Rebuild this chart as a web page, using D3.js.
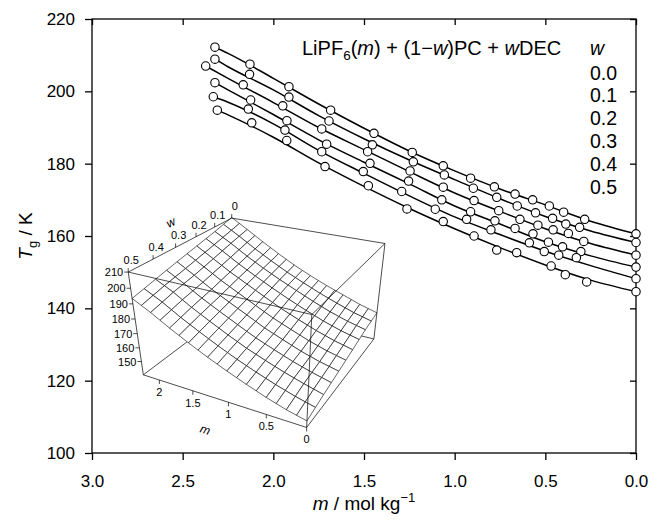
<!DOCTYPE html>
<html><head><meta charset="utf-8">
<script src="https://cdn.jsdelivr.net/npm/d3@7"></script>
<style>body{margin:0;background:#fff} text{font-family:"Liberation Sans",Arial,Helvetica,sans-serif;fill:#000}</style>
</head><body><svg id="c" width="649" height="521"></svg>
<script>
// ---------------- data ----------------
const wValues = [0.0, 0.1, 0.2, 0.3, 0.4, 0.5];
const wLabels = ["0.0", "0.1", "0.2", "0.3", "0.4", "0.5"];

// measured points (m / mol kg^-1, Tg / K) for each w
const pointsM = [
  [2.322,2.129,1.914,1.684,1.445,1.234,1.063,0.912,0.781,0.667,0.570,0.478,0.399,0.283,0],
  [2.322,2.131,1.914,1.693,1.454,1.228,1.057,0.897,0.768,0.655,0.554,0.460,0.387,0.311,0],
  [2.373,2.166,1.948,1.733,1.480,1.246,1.063,0.893,0.757,0.640,0.541,0.457,0.373,0.288,0],
  [2.322,2.125,1.925,1.706,1.467,1.254,1.071,0.912,0.778,0.667,0.568,0.483,0.405,0.304,0],
  [2.331,2.138,1.936,1.733,1.504,1.292,1.107,0.934,0.800,0.588,0.506,0.426,0.329,0],
  [2.309,2.119,1.926,1.715,1.476,1.263,1.063,0.893,0.768,0.658,0.468,0.390,0.272,0]
];
const pointsT = [
  [212.2,207.5,201.3,194.8,188.4,183.1,179.4,176.0,173.6,171.6,170.0,168.3,166.6,164.6,160.6],
  [208.9,204.7,198.4,191.8,185.2,180.5,176.9,173.2,170.7,168.3,166.4,164.9,163.3,162.4,158.2],
  [207.0,201.8,196.0,189.6,183.3,178.0,173.5,169.8,167.0,164.6,163.0,161.7,160.7,158.5,154.7],
  [202.4,197.6,191.9,185.4,180.1,175.2,170.0,166.7,164.2,162.1,160.6,158.3,157.0,155.7,151.4],
  [198.5,195.1,189.3,183.3,177.8,172.3,167.4,164.6,161.7,158.1,155.7,154.7,154.0,148.2],
  [194.8,191.3,186.4,179.2,173.9,167.5,164.0,160.0,156.1,155.4,151.7,149.3,147.3,144.6]
];

// fitted curves
const fitM = [0, 0.25, 0.5, 0.75, 1.0, 1.25, 1.5, 1.75, 2.0, 2.25];
const fitT = [
  [160.6,164.1,168.6,173.0,178.0,183.5,189.8,196.5,203.6,210.5],
  [158.2,161.4,165.4,170.3,175.6,181.0,186.9,193.3,200.4,206.8],
  [154.7,157.9,162.0,166.8,171.9,177.8,183.9,190.0,196.9,203.6],
  [151.4,154.5,158.4,163.3,168.3,174.4,180.4,186.6,193.6,200.4],
  [148.2,151.8,155.8,160.4,165.3,171.1,177.3,183.7,191.0,197.0],
  [144.6,147.8,152.0,156.8,162.0,167.6,173.7,180.2,187.3,193.5]
];
const fitStartM = [2.322, 2.322, 2.373, 2.322, 2.331, 2.309];
const fitStartT = [212.2, 208.9, 207.0, 202.4, 198.5, 194.8];

const xTicks = [3.0, 2.5, 2.0, 1.5, 1.0, 0.5, 0.0];
const yTicks = [100, 120, 140, 160, 180, 200, 220];
const insetMTicks = [0, 0.5, 1, 1.5, 2];
const insetMLabels = ["0", "0.5", "1", "1.5", "2"];
const insetWTicks = [0, 0.1, 0.2, 0.3, 0.4, 0.5];
const insetWLabels = ["0", "0.1", "0.2", "0.3", "0.4", "0.5"];
const insetZTicks = [150, 160, 170, 180, 190, 200, 210];

// ---------------- main plot ----------------
const svg = d3.select("#c");
const L = 92, R = 636, T = 19, B = 453;
const x = d3.scaleLinear().domain([3, 0]).range([L, R]);
const y = d3.scaleLinear().domain([100, 220]).range([B, T]);
const FONT = '"Liberation Sans",Arial,sans-serif';

// ---------------- inset 3-D surface ----------------
const mDom = [0, 2.25], wDom = [0, 0.5], zDom = [140, 210];
const sx = d3.scaleLinear().domain(mDom).range([0, 1]);
const sy = d3.scaleLinear().domain(wDom).range([0, 1]);
const sz = d3.scaleLinear().domain(zDom).range([0, 1]);
// calibration of the projection: unit-box corners -> screen
const calib3 = [[1,1,1],[1,1,0],[0,1,0],[1,0,1],[0,0,1],[0,1,1]];
const calib2 = [[128.3,271.7],[143.3,375],[306.7,427.3],[231.7,218.3],[385,243.3],[311.7,315]];
function makeProjection() {
  const u0 = 250, v0 = 320, sc = 100, n = 11;
  const A = [], b = [];
  calib3.forEach((p, i) => {
    const [X, Y, Z] = p;
    const u = (calib2[i][0] - u0) / sc, v = (calib2[i][1] - v0) / sc;
    A.push([X, Y, Z, 1, 0, 0, 0, 0, -u * X, -u * Y, -u * Z]); b.push(u);
    A.push([0, 0, 0, 0, X, Y, Z, 1, -v * X, -v * Y, -v * Z]); b.push(v);
  });
  const M = d3.range(n).map(() => new Array(n + 1).fill(0));
  for (let r = 0; r < A.length; r++)
    for (let i = 0; i < n; i++) {
      for (let j = 0; j < n; j++) M[i][j] += A[r][i] * A[r][j];
      M[i][n] += A[r][i] * b[r];
    }
  for (let i = 0; i < n; i++) M[i][i] += 1e-9;
  for (let c = 0; c < n; c++) {
    let piv = c;
    for (let r = c + 1; r < n; r++) if (Math.abs(M[r][c]) > Math.abs(M[piv][c])) piv = r;
    [M[c], M[piv]] = [M[piv], M[c]];
    for (let r = 0; r < n; r++) {
      if (r === c) continue;
      const f = M[r][c] / M[c][c];
      for (let j = c; j <= n; j++) M[r][j] -= f * M[c][j];
    }
  }
  const a = M.map((row, i) => row[n] / row[i]);
  return (X, Y, Z) => {
    const d = a[8] * X + a[9] * Y + a[10] * Z + 1;
    return [(a[0] * X + a[1] * Y + a[2] * Z + a[3]) / d * sc + u0,
            (a[4] * X + a[5] * Y + a[6] * Z + a[7]) / d * sc + v0, d];
  };
}
const proj = makeProjection();
const P = (m, w, z) => proj(sx(m), sy(w), sz(z));

const inset = svg.append("g");
const cube = [[0,0,0],[1,0,0],[0,1,0],[1,1,0],[0,0,1],[1,0,1],[0,1,1],[1,1,1]];
const cubeEdges = [];
for (let i = 0; i < 8; i++) for (let j = i + 1; j < 8; j++) {
  const a = cube[i], c = cube[j];
  if (Math.abs(a[0]-c[0]) + Math.abs(a[1]-c[1]) + Math.abs(a[2]-c[2]) === 1) cubeEdges.push([a, c]);
}
const isBack = e => e.some(p => p[0] === 1 && p[1] === 0 && p[2] === 0);
function drawEdge(e) {
  const p1 = proj(...e[0]), p2 = proj(...e[1]);
  inset.append("line").attr("x1", p1[0]).attr("y1", p1[1]).attr("x2", p2[0]).attr("y2", p2[1])
    .attr("stroke", "#000").attr("stroke-width", 0.7);
}
cubeEdges.filter(isBack).forEach(drawEdge);

// surface mesh (each data cell split in two for drawing)
const nI = (fitM.length - 1) * 2, nJ = (wValues.length - 1) * 2;
function node(i2, j2) {
  const i0 = Math.floor(i2 / 2), i1 = Math.ceil(i2 / 2), j0 = Math.floor(j2 / 2), j1 = Math.ceil(j2 / 2);
  const ti = (i2 / 2) - i0, tj = (j2 / 2) - j0;
  const m = d3.interpolateNumber(fitM[i0], fitM[i1])(ti);
  const w = d3.interpolateNumber(wValues[j0], wValues[j1])(tj);
  const a = d3.interpolateNumber(fitT[j0][i0], fitT[j0][i1])(ti);
  const c = d3.interpolateNumber(fitT[j1][i0], fitT[j1][i1])(ti);
  const z = d3.interpolateNumber(a, c)(tj);
  return P(m, w, z);
}
const cells = [];
for (let i = 0; i < nI; i++) for (let j = 0; j < nJ; j++) {
  const q = [node(i, j), node(i + 1, j), node(i + 1, j + 1), node(i, j + 1)];
  cells.push({ q, d: d3.mean(q, p => p[2]) });
}
cells.sort((a, b) => b.d - a.d);
inset.selectAll("path.cell").data(cells).join("path").attr("class", "cell")
  .attr("d", c => "M" + c.q.map(p => p[0].toFixed(2) + "," + p[1].toFixed(2)).join("L") + "Z")
  .attr("fill", "#fff").attr("stroke", "#000").attr("stroke-width", 0.6).attr("stroke-linejoin", "round");

cubeEdges.filter(e => !isBack(e)).forEach(drawEdge);

// inset axes ticks & labels
const fs = 11;
insetZTicks.forEach(z => {
  const p = P(mDom[1], wDom[1], z);
  inset.append("line").attr("x1", p[0]).attr("y1", p[1]).attr("x2", p[0] - 4).attr("y2", p[1]).attr("stroke", "#000").attr("stroke-width", 0.7);
  inset.append("text").attr("x", p[0] - 5).attr("y", p[1] + 4).attr("text-anchor", "end").attr("font-size", fs).text(z);
});
insetMTicks.forEach((m, k) => {
  const p = P(m, wDom[1], zDom[0]);
  inset.append("line").attr("x1", p[0]).attr("y1", p[1]).attr("x2", p[0]).attr("y2", p[1] + 4).attr("stroke", "#000").attr("stroke-width", 0.7);
  inset.append("text").attr("x", p[0]).attr("y", p[1] + 16).attr("text-anchor", "middle").attr("font-size", fs).text(insetMLabels[k]);
});
insetWTicks.forEach((w, k) => {
  const p = P(mDom[1], w, zDom[1]);
  inset.append("line").attr("x1", p[0]).attr("y1", p[1]).attr("x2", p[0]).attr("y2", p[1] - 4).attr("stroke", "#000").attr("stroke-width", 0.7);
  inset.append("text").attr("x", p[0] + 3).attr("y", p[1] - 8).attr("text-anchor", "middle").attr("font-size", fs).text(insetWLabels[k]);
});
{
  const pw = P(mDom[1], 0.35, zDom[1]);
  inset.append("text").attr("transform", `translate(${pw[0] + 8},${pw[1] - 27}) rotate(-27)`)
    .attr("text-anchor", "middle").attr("font-size", 12).attr("font-style", "italic").text("w");
  const pm = P(1.2, wDom[1], zDom[0]);
  inset.append("text").attr("transform", `translate(${pm[0] - 10},${pm[1] + 36}) rotate(18)`)
    .attr("text-anchor", "middle").attr("font-size", 12).attr("font-style", "italic").text("m");
}

// ---------------- main axes ----------------
const gx = svg.append("g").attr("transform", `translate(0,${B})`)
  .call(d3.axisBottom(x).tickValues(xTicks).tickFormat(d3.format(".1f")).tickSize(7).tickPadding(15));
const gy = svg.append("g").attr("transform", `translate(${L},0)`)
  .call(d3.axisLeft(y).tickValues(yTicks).tickFormat(d3.format("d")).tickSize(7).tickPadding(10));
const gt = svg.append("g").attr("transform", `translate(0,${T})`)
  .call(d3.axisTop(x).tickValues(xTicks).tickSize(-6).tickFormat(""));
const gr = svg.append("g").attr("transform", `translate(${R},0)`)
  .call(d3.axisRight(y).tickValues(yTicks).tickSize(-6).tickFormat(""));
[gx, gy, gt, gr].forEach(g => {
  g.select(".domain").remove();
  g.selectAll("line").attr("stroke", "#000").attr("stroke-width", 1.3);
  g.selectAll("text").attr("font-size", 17).attr("font-family", FONT).attr("fill", "#000");
});
svg.append("rect").attr("x", L).attr("y", T).attr("width", R - L).attr("height", B - T)
  .attr("fill", "none").attr("stroke", "#000").attr("stroke-width", 1.3);

// ---------------- curves & points ----------------
const line = d3.line().x(d => x(d[0])).y(d => y(d[1])).curve(d3.curveMonotoneX);
wValues.forEach((w, k) => {
  const pts = fitM.map((m, i) => [m, fitT[k][i]]);
  pts.push([fitStartM[k], fitStartT[k]]);
  pts.sort((a, b) => b[0] - a[0]);
  svg.append("path").attr("d", line(pts)).attr("fill", "none").attr("stroke", "#000").attr("stroke-width", 1.5);
});
wValues.forEach((w, k) => {
  svg.append("g").selectAll("circle").data(pointsM[k].map((m, i) => [m, pointsT[k][i]])).join("circle")
    .attr("cx", d => x(d[0])).attr("cy", d => y(d[1])).attr("r", 4.2)
    .attr("fill", "#fff").attr("stroke", "#000").attr("stroke-width", 1.1);
});

// ---------------- legend & titles ----------------
const t1 = svg.append("text").attr("x", 302).attr("y", 55).attr("font-size", 20);
t1.append("tspan").text("LiPF");
t1.append("tspan").attr("font-size", 13.5).attr("dy", 5).text("6");
t1.append("tspan").attr("dy", -5).text("(");
t1.append("tspan").attr("font-style", "italic").text("m");
t1.append("tspan").text(") + (1\u2212");
t1.append("tspan").attr("font-style", "italic").text("w");
t1.append("tspan").text(")PC + ");
t1.append("tspan").attr("font-style", "italic").text("w");
t1.append("tspan").text("DEC");

svg.append("text").attr("x", 590).attr("y", 55).attr("font-size", 19.5).attr("font-style", "italic").text("w");
wLabels.forEach((s, k) => {
  svg.append("text").attr("x", 590).attr("y", 79.5 + k * 22.8).attr("font-size", 19.5).text(s);
});

const xt = svg.append("text").attr("x", (L + R) / 2).attr("y", 510).attr("text-anchor", "middle").attr("font-size", 19);
xt.append("tspan").attr("font-style", "italic").text("m");
xt.append("tspan").text(" / mol kg");
xt.append("tspan").attr("font-size", 13).attr("dy", -8).text("\u22121");

const yt = svg.append("text").attr("transform", `translate(32,${(T + B) / 2}) rotate(-90)`)
  .attr("text-anchor", "middle").attr("font-size", 19);
yt.append("tspan").attr("font-style", "italic").text("T");
yt.append("tspan").attr("font-size", 13).attr("dy", 5).text("g");
yt.append("tspan").attr("dy", -5).text(" / K");
</script></body></html>
